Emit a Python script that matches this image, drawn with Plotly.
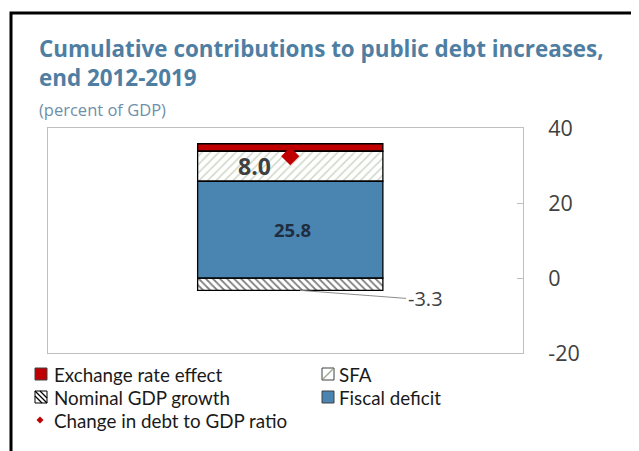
import plotly.graph_objects as go

categories = ["2012-2019"]
exchange_rate = [2.0]
sfa = [8.0]
nominal_gdp = [-3.3]
fiscal_deficit = [25.8]
change_debt = [32.5]
y_ticks = [-20, 0, 20, 40]
y_tick_labels = ["-20", "0", "20", "40"]
legend_names = ["Exchange rate effect", "SFA", "Nominal GDP growth", "Fiscal deficit",
                "Change in debt to GDP ratio"]

# page body has an 8px margin; work in window pixel coordinates
OFF = 8
W, H = 639 - OFF, 451 - OFF
PL, PR, PT, PB = 48, 523, 128, 353  # plot area in window pixels
L, R, T, B = PL - OFF, W - (PR - OFF), PT - OFF, H - (PB - OFF)
PW, PH = PR - PL, PB - PT

def px(x):
    return (x - PL) / PW

def py(y):
    return (PB - y) / PH

FONT = "Open Sans"
LEG_FAMILY = "Lato"
RED = "#C00000"
BLUE = "#4A84B0"
SFA_GREEN = "#9EAE8E"

fig = go.Figure()

fig.add_trace(go.Bar(
    name=legend_names[0], x=categories, y=exchange_rate, base=[fiscal_deficit[0] + sfa[0]],
    marker=dict(color=RED, line=dict(color="black", width=1.3)), width=0.39,
))
fig.add_trace(go.Bar(
    name=legend_names[1], x=categories, y=sfa, base=fiscal_deficit,
    marker=dict(color="white", line=dict(color="black", width=1.3),
                pattern=dict(shape="/", fgcolor=SFA_GREEN, bgcolor="white", size=6, solidity=0.25)),
    width=0.39,
))
fig.add_trace(go.Bar(
    name=legend_names[2], x=categories, y=nominal_gdp, base=[0],
    marker=dict(color="white", line=dict(color="black", width=1.3),
                pattern=dict(shape="\\", fgcolor="black", bgcolor="white", size=5, solidity=0.35)),
    width=0.39,
))
fig.add_trace(go.Bar(
    name=legend_names[3], x=categories, y=fiscal_deficit, base=[0],
    marker=dict(color=BLUE, line=dict(color="black", width=1.3)), width=0.39,
))
fig.add_trace(go.Scatter(
    name=legend_names[4], x=categories, y=change_debt, mode="markers",
    marker=dict(symbol="diamond", size=14, color=RED),
))

annotations = [
    dict(xref="paper", yref="paper", x=px(37), y=py(63), xanchor="left", yanchor="middle",
         text="<b>Cumulative contributions to public debt increases,<br>end 2012-2019</b>",
         align="left", showarrow=False, font=dict(family=FONT, size=22.4, color="#4F7EA3")),
    dict(xref="paper", yref="paper", x=px(37), y=py(110), xanchor="left", yanchor="middle",
         text="(percent of GDP)", showarrow=False, font=dict(family=FONT, size=16.5, color="#6E8FAA")),
    dict(xref="paper", yref="y", x=px(254), y=fiscal_deficit[0] + sfa[0] / 2, xanchor="center", yanchor="middle",
         text="<b>%.1f</b>" % sfa[0], showarrow=False, font=dict(family=FONT, size=23, color="#404040")),
    dict(xref="paper", yref="y", x=px(292), y=fiscal_deficit[0] / 2, xanchor="center", yanchor="middle",
         text="<b>%.1f</b>" % fiscal_deficit[0], showarrow=False, font=dict(family=FONT, size=18.5, color="#1F2D40")),
    dict(xref="paper", yref="y", x=px(300), y=nominal_gdp[0], xanchor="left", yanchor="middle",
         text="%.1f" % nominal_gdp[0], showarrow=True, arrowhead=0, arrowwidth=1, arrowcolor="#8C8C8C",
         ax=106, ay=8, font=dict(family=FONT, size=20, color="#404040")),
]

shapes = [
    dict(type="rect", xref="paper", yref="paper", x0=px(11), x1=px(700), y0=py(520), y1=py(13),
         line=dict(color="black", width=3), fillcolor="rgba(0,0,0,0)", layer="above"),
]

# manual legend (one multi-line text block per column, 23px row pitch)
LINE_PITCH = 23
LEG_BASE = LINE_PITCH / 1.3
rows = [374, 397, 420]
col_sq = [35, 322]
col_tx = [52, 337]
columns = [[0, 2, 4], [1, 3]]

def big(s):
    return '<span style="font-size:18.8px">%s</span>' % s

for col, items in enumerate(columns):
    yc = sum(rows[:len(items)]) / len(items)
    annotations.append(dict(xref="paper", yref="paper", x=px(col_tx[col]), y=py(yc), xanchor="left",
                            yanchor="middle", align="left",
                            text="<br>".join(big(legend_names[i]) for i in items), showarrow=False,
                            font=dict(family=LEG_FAMILY, size=LEG_BASE, color="#1A1A1A")))

entries = [(0, 0, 0), (1, 1, 0), (2, 0, 1), (3, 1, 1)]
for idx, col, row in entries:
    yc = rows[row]
    x0 = col_sq[col]
    sx0, sx1, sy0, sy1 = x0, x0 + 12, yc - 6, yc + 6
    fill = {0: RED, 1: "white", 2: "white", 3: BLUE}[idx]
    border = {0: "#404040", 1: "#404040", 2: "black", 3: "#404040"}[idx]
    shapes.append(dict(type="rect", xref="paper", yref="paper", x0=px(sx0), x1=px(sx1),
                       y0=py(sy1), y1=py(sy0), line=dict(color=border, width=1), fillcolor=fill))
    if idx == 1:
        shapes.append(dict(type="line", xref="paper", yref="paper", x0=px(sx0 + 1), y0=py(sy1 - 1),
                           x1=px(sx1 - 1), y1=py(sy0 + 1), line=dict(color=SFA_GREEN, width=1.5)))
    if idx == 2:
        for a, b, c, d in [(0, 0, 12, 12), (0, 5, 7, 12), (5, 0, 12, 7)]:
            shapes.append(dict(type="line", xref="paper", yref="paper", x0=px(sx0 + a), y0=py(sy0 + b),
                               x1=px(sx0 + c), y1=py(sy0 + d), line=dict(color="black", width=1.2)))

shapes.append(dict(type="path", xref="paper", yref="paper",
                   path="M %f,%f L %f,%f L %f,%f L %f,%f Z" % (
                       px(40), py(rows[2] - 3.5), px(43.5), py(rows[2]),
                       px(40), py(rows[2] + 3.5), px(36.5), py(rows[2])),
                   fillcolor=RED, line=dict(width=0)))

fig.update_layout(
    width=W, height=H,
    margin=dict(l=L, r=R, t=T, b=B),
    paper_bgcolor="white", plot_bgcolor="white",
    barmode="overlay",
    showlegend=False,
    xaxis=dict(range=[-0.51, 0.49], showticklabels=False, showgrid=False, zeroline=False,
               showline=True, mirror=True, linecolor="#BFBFBF", linewidth=1, ticks=""),
    yaxis=dict(range=[-20, 40], side="right", tickvals=y_ticks, ticktext=y_tick_labels,
               showgrid=False, zeroline=False,
               showline=True, mirror=True, linecolor="#BFBFBF", linewidth=1,
               ticks="inside", ticklen=6, tickcolor="#BFBFBF", ticklabelstandoff=20,
               tickfont=dict(family=FONT, size=21.5, color="#404040")),
    annotations=annotations,
    shapes=shapes,
)

fig.write_html("out.html")
